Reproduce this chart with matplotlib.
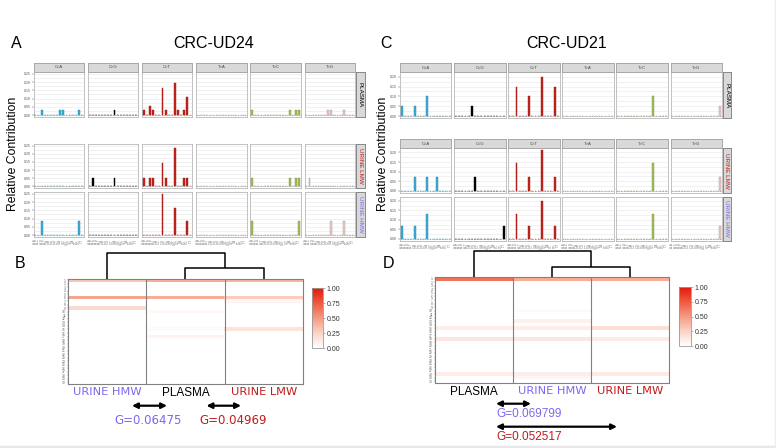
import numpy as np
import matplotlib
matplotlib.use("Agg")
import matplotlib.pyplot as plt
from matplotlib.colors import LinearSegmentedColormap

plt.rcParams['font.family'] = ['Liberation Sans', 'DejaVu Sans']

W, H = 776, 448

# 96 trinucleotide profile: six mutation types x 16 contexts
bases = ["A", "C", "G", "T"]
mut_types = ["C>A", "C>G", "C>T", "T>A", "T>C", "T>G"]
contexts = [a + "." + b for a in bases for b in bases]
mut_colors = ["#3BB0DA", "#000000", "#C8241C", "#D4D2D2", "#A6C060", "#E8CCCA"]
mut_edges = ["#2A7FA0", "#000000", "#8E1A14", "#A0A0A0", "#7A8F40", "#B09090"]

sample_names = ["PLASMA", "URINE LMW", "URINE HMW"]
sample_colors = ["#000000", "#C41A1A", "#7B68EE"]

# mutation counts per context
ud24_plasma = [
    0, 0, 1, 0, 0, 0, 0, 0, 1, 1, 0, 0, 0, 0, 1, 0,
    0, 0, 0, 0, 0, 0, 0, 0, 1, 0, 0, 0, 0, 0, 0, 0,
    1, 0, 2, 1, 0, 0, 6, 1, 0, 0, 7, 1, 0, 1, 4, 0,
    0, 0, 0, 0, 0, 0, 0, 0, 0, 0, 0, 0, 0, 0, 0, 0,
    1, 0, 0, 0, 0, 0, 0, 0, 0, 0, 0, 0, 1, 0, 1, 1,
    0, 0, 0, 0, 0, 0, 0, 1, 1, 0, 0, 0, 1, 0, 0, 0,
]
ud24_lmw = [
    0, 0, 0, 0, 0, 0, 0, 0, 0, 0, 0, 0, 0, 0, 0, 0,
    0, 1, 0, 0, 0, 0, 0, 0, 1, 0, 0, 0, 0, 0, 0, 0,
    1, 0, 1, 1, 0, 0, 3, 1, 0, 0, 5, 0, 0, 1, 1, 0,
    0, 0, 0, 0, 0, 0, 0, 0, 0, 0, 0, 0, 0, 0, 0, 0,
    1, 0, 0, 0, 0, 0, 0, 0, 0, 0, 0, 0, 1, 0, 1, 1,
    0, 1, 0, 0, 0, 0, 0, 0, 0, 0, 0, 0, 0, 0, 0, 0,
]
ud24_hmw = [
    0, 0, 1, 0, 0, 0, 0, 0, 0, 0, 0, 0, 0, 0, 1, 0,
    0, 0, 0, 0, 0, 0, 0, 0, 0, 0, 0, 0, 0, 0, 0, 0,
    0, 0, 0, 0, 0, 0, 3, 0, 0, 0, 2, 0, 0, 0, 1, 0,
    0, 0, 0, 0, 0, 0, 0, 0, 0, 0, 0, 0, 0, 0, 0, 0,
    1, 0, 0, 0, 0, 0, 0, 0, 0, 0, 0, 0, 0, 0, 0, 1,
    0, 0, 0, 0, 0, 0, 0, 0, 1, 0, 0, 0, 1, 0, 0, 0,
]
ud21_plasma = [
    1, 0, 0, 0, 1, 0, 0, 0, 2, 0, 0, 0, 0, 0, 0, 0,
    0, 0, 0, 0, 0, 1, 0, 0, 0, 0, 0, 0, 0, 0, 0, 0,
    0, 0, 3, 0, 0, 0, 2, 0, 0, 0, 4, 0, 0, 0, 3, 0,
    0, 0, 0, 0, 0, 0, 0, 0, 0, 0, 0, 0, 0, 0, 0, 0,
    0, 0, 0, 0, 0, 0, 0, 0, 0, 0, 0, 2, 0, 0, 0, 0,
    0, 0, 0, 0, 0, 0, 0, 0, 0, 0, 0, 0, 0, 0, 0, 1,
]
ud21_lmw = [
    0, 0, 0, 0, 1, 0, 0, 0, 1, 0, 0, 1, 0, 0, 0, 0,
    0, 0, 0, 0, 0, 0, 1, 0, 0, 0, 0, 0, 0, 0, 0, 0,
    0, 0, 2, 0, 0, 0, 1, 0, 0, 0, 3, 0, 0, 0, 1, 0,
    0, 0, 0, 0, 0, 0, 0, 0, 0, 0, 0, 0, 0, 0, 0, 0,
    0, 0, 0, 0, 0, 0, 0, 0, 0, 0, 0, 2, 0, 0, 0, 0,
    0, 0, 0, 0, 0, 0, 0, 0, 0, 0, 0, 0, 0, 0, 0, 1,
]
ud21_hmw = [
    1, 0, 0, 0, 1, 0, 0, 0, 2, 0, 0, 0, 0, 0, 0, 0,
    0, 0, 0, 0, 0, 0, 0, 0, 0, 0, 0, 0, 0, 0, 0, 1,
    0, 0, 2, 0, 0, 0, 1, 0, 0, 0, 3, 0, 0, 0, 1, 0,
    0, 0, 0, 0, 0, 0, 0, 0, 0, 0, 0, 0, 0, 0, 0, 0,
    0, 0, 0, 0, 0, 0, 0, 0, 0, 0, 0, 2, 0, 0, 0, 0,
    0, 0, 0, 0, 0, 0, 0, 0, 0, 0, 0, 0, 0, 0, 0, 1,
]

# signature contribution heatmaps (30 signatures)
sig_rows = list(range(1, 31))
ud24_cols = ["URINE HMW", "PLASMA", "URINE LMW"]
ud24_hm_hmw = [0.30, 0, 0, 0, 0, 0.45, 0, 0, 0.20, 0,
               0, 0, 0, 0, 0, 0, 0, 0, 0, 0,
               0, 0, 0, 0, 0, 0, 0, 0, 0, 0]
ud24_hm_plasma = [0.40, 0, 0, 0, 0, 0.42, 0, 0, 0, 0.04,
                  0, 0, 0, 0, 0.03, 0, 0.07, 0, 0, 0,
                  0, 0, 0, 0, 0, 0, 0, 0, 0, 0]
ud24_hm_lmw = [0.38, 0, 0, 0, 0, 0.28, 0.06, 0, 0, 0,
               0, 0, 0, 0, 0.15, 0, 0, 0, 0, 0,
               0, 0, 0, 0, 0, 0, 0, 0, 0, 0]
ud24_merge_heights = [0.4, 1.0]

ud21_cols = ["PLASMA", "URINE HMW", "URINE LMW"]
ud21_hm_plasma = [0.65, 0, 0, 0, 0, 0, 0, 0, 0, 0,
                  0, 0, 0, 0, 0.10, 0, 0, 0.14, 0, 0,
                  0, 0, 0, 0, 0, 0, 0, 0.10, 0, 0]
ud21_hm_hmw = [0.42, 0, 0, 0, 0, 0, 0, 0, 0, 0.03,
               0, 0, 0.08, 0, 0.10, 0, 0, 0.14, 0, 0,
               0, 0, 0, 0, 0, 0, 0, 0.10, 0.05, 0]
ud21_hm_lmw = [0.42, 0, 0, 0, 0, 0, 0, 0, 0, 0,
               0, 0, 0, 0, 0.18, 0, 0, 0.12, 0, 0,
               0, 0, 0, 0, 0, 0, 0, 0.12, 0, 0]
ud21_merge_heights = [0.38, 1.0]

col_label_colors = {"PLASMA": "#000000", "URINE HMW": "#7B68EE", "URINE LMW": "#C41A1A"}

cmap = LinearSegmentedColormap.from_list(
    "wr", ["#FFFFFF", "#FBD3C6", "#F59A82", "#EE5A40", "#E4180C"])

fig = plt.figure(figsize=(W / 100, H / 100), dpi=100)
fig.patch.set_facecolor("white")


def px_axes(x0, y0, x1, y1):
    return fig.add_axes([x0 / W, 1 - y1 / H, (x1 - x0) / W, (y1 - y0) / H])


def strip(x0, y0, x1, y1, text, color, rot, size, edge):
    s = px_axes(x0, y0, x1, y1)
    s.set_facecolor("#D9D9D9")
    s.set_xticks([])
    s.set_yticks([])
    for sp in s.spines.values():
        sp.set_color(edge)
        sp.set_linewidth(0.7)
    s.text(0.5, 0.5, text, ha="center", va="center", rotation=rot,
           fontsize=size, color=color, transform=s.transAxes)


def draw_profile(counts, cx0, cw, pitch, y0, y1, ymax, ylim, top_strip,
                 name, ncolor, rx, show_x):
    rel = np.array(counts, float) / sum(counts)
    pos = np.arange(1, 17)
    for j, mt in enumerate(mut_types):
        x0 = cx0 + j * pitch
        ax = px_axes(x0, y0, x0 + cw, y1)
        ax.bar(pos, rel[16 * j:16 * j + 16], width=0.6, color=mut_colors[j],
               edgecolor=mut_edges[j], linewidth=0.3, zorder=3)
        ax.set_xlim(0.4, 16.6)
        ax.set_ylim(*ylim)
        ax.axhline(0, color="#9A9A9A", lw=0.5, ls=(0, (2, 1.5)), zorder=2)
        yt = np.arange(0, ymax + 1e-9, 0.05)
        ax.set_yticks(yt)
        ax.set_yticks(np.arange(0.025, ymax, 0.05), minor=True)
        ax.grid(axis="y", which="both", color="#E6E6E6", lw=0.4)
        ax.set_axisbelow(True)
        for sp in ax.spines.values():
            sp.set_color("#B8B8B8")
            sp.set_linewidth(0.6)
        ax.tick_params(axis="y", which="minor", length=0)
        if j == 0:
            ax.set_yticklabels(["%.2f" % v for v in yt], fontsize=2.6, color="#555555")
            ax.tick_params(axis="y", which="major", length=1.2, width=0.3,
                           pad=0.8, color="#555555")
        else:
            ax.set_yticklabels([])
            ax.tick_params(axis="y", which="major", length=0)
        ax.set_xticks(pos)
        if show_x:
            ax.set_xticklabels(contexts, rotation=90, fontsize=2.2, color="#777777")
            ax.tick_params(axis="x", length=1, width=0.3, pad=0.6, color="#777777")
        else:
            ax.set_xticklabels([])
            ax.tick_params(axis="x", length=0)
        if top_strip:
            strip(x0, y0 - 9, x0 + cw, y0, mt, "#444444", 0, 3, "#A8A8A8")
    strip(rx, y0, rx + 8.5, y1, name, ncolor, -90, 4.5, "#888888")


def draw_heatmap(cols, names, hx0, hy0, hx1, hy1, cbox, heights, dtop):
    data = np.column_stack(cols)
    ax = px_axes(hx0, hy0, hx1, hy1)
    im = ax.imshow(data, cmap=cmap, vmin=0, vmax=1, aspect="auto",
                   interpolation="nearest", extent=(0, 3, 30, 0))
    ax.axvline(1, color="#808080", lw=0.8)
    ax.axvline(2, color="#808080", lw=0.8)
    for sp in ax.spines.values():
        sp.set_color("#808080")
        sp.set_linewidth(0.8)
    ax.set_yticks(np.arange(30) + 0.5)
    ax.set_yticklabels([str(r) for r in sig_rows], fontsize=2.4, color="#666666")
    ax.tick_params(axis="y", length=1, width=0.3, pad=0.5, color="#666666")
    ax.set_xticks([0.5, 1.5, 2.5])
    ax.set_xticklabels(names, fontsize=8.5)
    ax.tick_params(axis="x", length=0, pad=2)
    for lab, nm in zip(ax.get_xticklabels(), names):
        lab.set_color(col_label_colors[nm])
        lab.set_family("Liberation Sans" if nm == "PLASMA" else "DejaVu Sans")
        if nm != "PLASMA":
            lab.set_fontsize(8.2)

    cax = px_axes(*cbox)
    cb = fig.colorbar(im, cax=cax, ticks=[0, 0.25, 0.5, 0.75, 1.0], format="%.2f")
    cb.outline.set_edgecolor("#9A9A9A")
    cb.outline.set_linewidth(0.6)
    cax.tick_params(labelsize=5, length=1.5, width=0.4, pad=1, color="#777777",
                    labelcolor="#333333")

    # dendrogram: leaves 2 and 3 join first, then leaf 1
    dax = px_axes(hx0, dtop, hx1, hy0)
    dax.set_xlim(0, 3)
    dax.set_ylim(0, heights[1])
    dax.axis("off")
    kw = dict(color="black", lw=1.1, clip_on=False, solid_capstyle="butt")
    h_lo, h_hi = heights
    dax.plot([1.5, 1.5, 2.5, 2.5], [0, h_lo, h_lo, 0], **kw)
    dax.plot([0.5, 0.5, 2.0, 2.0], [0, h_hi, h_hi, h_lo], **kw)


# ---- panel A / C: mutational profiles
draw_profile(ud24_plasma, 33.5, 50.5, 54.2, 72, 117, 0.25, (-0.012, 0.262), True,
             sample_names[0], sample_colors[0], 356, False)
draw_profile(ud24_lmw, 33.5, 50.5, 54.2, 144, 188, 0.25, (-0.012, 0.262), False,
             sample_names[1], sample_colors[1], 356, False)
draw_profile(ud24_hmw, 33.5, 50.5, 54.2, 192, 237, 0.25, (-0.012, 0.262), False,
             sample_names[2], sample_colors[2], 356, True)

draw_profile(ud21_plasma, 400, 51.5, 54.1, 72.3, 118.3, 0.2, (-0.011, 0.222), True,
             sample_names[0], sample_colors[0], 722.5, False)
draw_profile(ud21_lmw, 400, 51.5, 54.1, 148.3, 192.7, 0.2, (-0.011, 0.222), True,
             sample_names[1], sample_colors[1], 722.5, False)
draw_profile(ud21_hmw, 400, 51.5, 54.1, 196.7, 241, 0.2, (-0.011, 0.222), False,
             sample_names[2], sample_colors[2], 722.5, True)

# ---- panel B / D: heatmaps
draw_heatmap([ud24_hm_hmw, ud24_hm_plasma, ud24_hm_lmw], ud24_cols,
             68, 278.5, 303, 384, (312, 288, 323, 348), ud24_merge_heights, 253)
draw_heatmap([ud21_hm_plasma, ud21_hm_hmw, ud21_hm_lmw], ud21_cols,
             435, 277, 669, 383, (679, 287, 691, 346), ud21_merge_heights, 251)

# ---- overlay for labels and arrows (pixel coordinates)
ov = fig.add_axes([0, 0, 1, 1])
ov.set_xlim(0, W)
ov.set_ylim(H, 0)
ov.axis("off")
ov.patch.set_alpha(0)

ov.text(16, 44, "A", fontsize=11.5, ha="center", va="center")
ov.text(213.5, 44, "CRC-UD24", fontsize=11.5, ha="center", va="center")
ov.text(386, 44, "C", fontsize=11.5, ha="center", va="center")
ov.text(567, 43.5, "CRC-UD21", fontsize=11.5, ha="center", va="center")
ov.text(20, 263, "B", fontsize=11.5, ha="center", va="center")
ov.text(388, 263, "D", fontsize=11.5, ha="center", va="center")
ov.text(13, 154, "Relative Contribution", fontsize=8.8, rotation=90,
        ha="center", va="center")
ov.text(383, 154, "Relative Contribution", fontsize=8.8, rotation=90,
        ha="center", va="center")

aprops = dict(arrowstyle="<|-|>", color="black", lw=1.6, mutation_scale=8,
              shrinkA=0, shrinkB=0)
ov.annotate("", xy=(167, 405.7), xytext=(132, 405.7), arrowprops=aprops)
ov.annotate("", xy=(241, 405.7), xytext=(206.5, 405.7), arrowprops=aprops)
ov.text(148.5, 420.5, "G=0.06475", fontsize=8.5, color="#7B68EE",
        family="DejaVu Sans", ha="center", va="center")
ov.text(233.5, 420, "G=0.04969", fontsize=8.5, color="#C41A1A",
        family="DejaVu Sans", ha="center", va="center")

ov.annotate("", xy=(531, 403.7), xytext=(496, 403.7), arrowprops=aprops)
ov.annotate("", xy=(617, 426.7), xytext=(496, 426.7), arrowprops=aprops)
ov.text(496, 414, "G=0.069799", fontsize=8.5, color="#7B68EE",
        ha="left", va="center")
ov.text(496, 436.7, "G=0.052517", fontsize=8.5, color="#C41A1A",
        ha="left", va="center")

# light frame at the bottom/right edge of the original image
ov.axhline(447, color="#E8E8E8", lw=2.5)
ov.axvline(774.5, color="#EDEDED", lw=1)

fig.savefig("out.png", dpi=100, facecolor="white")
